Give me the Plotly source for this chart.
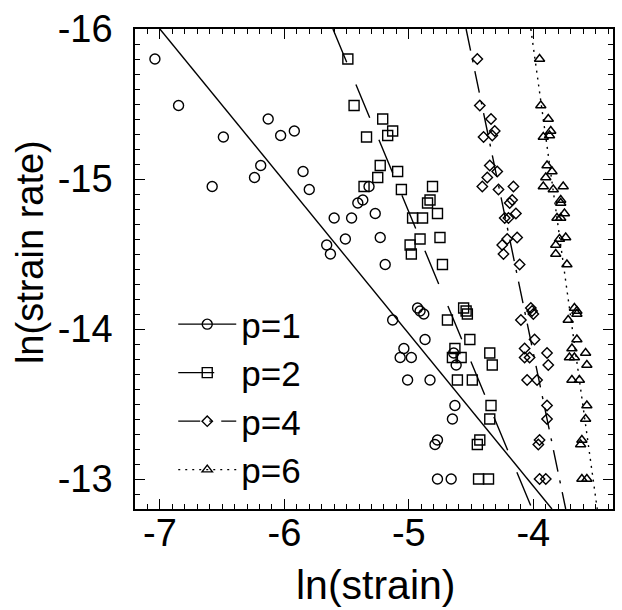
import plotly.graph_objects as go

# shared ln(strain rate) values (same set for each p)
ln_rate = [-15.80, -15.49, -15.40, -15.28, -15.29, -15.32, -15.09, -15.01, -14.95, -15.05,
           -14.93, -14.95, -14.86, -14.84, -14.74, -14.74, -14.77, -14.60, -14.56, -14.50,
           -14.61, -14.43, -14.14, -14.12, -14.10, -14.06, -13.93, -13.87, -13.81, -13.81,
           -13.66, -13.66, -13.84, -13.76, -13.49, -13.40, -13.26, -13.23, -13.00, -13.00]

# ln(strain) for each p
x_p1 = [-7.04, -6.85, -6.13, -6.49, -6.03, -5.92, -6.19, -6.24, -6.58, -5.85,
        -5.80, -5.32, -5.37, -5.41, -5.60, -5.46, -5.27, -5.51, -5.66, -5.63,
        -5.23, -5.19, -4.93, -4.91, -4.88, -5.13, -4.87, -5.04, -5.07, -4.98,
        -5.01, -4.83, -4.64, -4.62, -4.63, -4.65, -4.77, -4.79, -4.77, -4.66]
x_p2 = [-5.49, -5.44, -5.21, -5.34, -5.17, -5.13, -5.23, -5.25, -5.36, -5.09,
        -5.06, -4.81, -4.83, -4.85, -4.97, -4.89, -4.77, -4.91, -4.99, -4.98,
        -4.75, -4.73, -4.56, -4.54, -4.53, -4.69, -4.51, -4.63, -4.65, -4.58,
        -4.61, -4.49, -4.35, -4.33, -4.34, -4.35, -4.43, -4.45, -4.44, -4.36]
x_p4 = [-4.45, -4.43, -4.34, -4.40, -4.33, -4.31, -4.35, -4.37, -4.41, -4.29,
        -4.28, -4.16, -4.17, -4.19, -4.23, -4.20, -4.14, -4.21, -4.25, -4.24,
        -4.13, -4.11, -4.02, -4.01, -4.00, -4.10, -3.99, -4.07, -4.07, -4.03,
        -4.05, -3.97, -3.89, -3.88, -3.89, -3.89, -3.95, -3.96, -3.95, -3.90]
x_p6 = [-3.95, -3.94, -3.88, -3.92, -3.87, -3.86, -3.89, -3.90, -3.92, -3.85,
        -3.84, -3.76, -3.78, -3.78, -3.81, -3.78, -3.75, -3.79, -3.82, -3.82,
        -3.74, -3.73, -3.67, -3.65, -3.65, -3.72, -3.65, -3.69, -3.71, -3.67,
        -3.69, -3.63, -3.58, -3.57, -3.57, -3.58, -3.61, -3.62, -3.61, -3.57]

series_names = ["p=1", "p=2", "p=4", "p=6"]
series_x = [x_p1, x_p2, x_p4, x_p6]
symbols = ["circle-open", "square-open", "diamond-open", "triangle-up-open"]
marker_sizes = [10, 10, 8, 9]
dashes = ["solid", "36px,24px", "22px,9px,3px,9px", "2px,5px"]

# fitted lines: slope and ln(strain) at ln(rate) = -16
fit_slope = [1.016, 2.0, 4.0, 6.0]
fit_x_top = [-7.0, -5.61, -4.54, -4.02]

x_range = [-7.2, -3.36]
y_range = [-12.8, -16.0]

x_tickvals = [-7, -6, -5, -4]
x_ticktext = ["-7", "-6", "-5", "-4"]
y_tickvals = [-16, -15, -14, -13]
y_ticktext = ["-16", "-15", "-14", "-13"]

FONT = "Liberation Sans, Arial, sans-serif"

fig = go.Figure()
for i in range(4):
    fig.add_trace(go.Scatter(
        x=series_x[i], y=ln_rate, mode="markers", showlegend=False,
        marker=dict(symbol=symbols[i], size=marker_sizes[i], color="black",
                    line=dict(color="black", width=1.4)),
    ))
for i in range(4):
    y_top, y_bot = y_range[1], y_range[0]
    x_bot = fit_x_top[i] + (y_bot - y_top) / fit_slope[i]
    fig.add_trace(go.Scatter(
        x=[fit_x_top[i], x_bot], y=[y_top, y_bot], mode="lines+markers",
        name=series_names[i],
        line=dict(color="black", width=1.4, dash=dashes[i]),
        marker=dict(symbol=symbols[i], size=marker_sizes[i], color="black",
                    line=dict(color="black", width=1.4)),
        selectedpoints=[],
        unselected=dict(marker=dict(opacity=0)),
    ))

axis_common = dict(
    showline=True, linecolor="black", linewidth=1.5, mirror="ticks",
    ticks="inside", ticklen=10, tickwidth=1.2, tickcolor="black",
    showgrid=False, zeroline=False,
    tickfont=dict(family=FONT, size=38, color="black"),
)

fig.update_xaxes(range=x_range, tickmode="array", tickvals=x_tickvals, ticktext=x_ticktext,
                 minor=dict(tickmode="linear", tick0=-7, dtick=0.1, ticks="inside",
                            ticklen=5, tickwidth=1, tickcolor="black", showgrid=False),
                 ticklabelstandoff=-10, **axis_common)
fig.update_yaxes(range=y_range, tickmode="array", tickvals=y_tickvals, ticktext=y_ticktext,
                 minor=dict(tickmode="linear", tick0=-16, dtick=0.1, ticks="inside",
                            ticklen=5, tickwidth=1, tickcolor="black", showgrid=False),
                 ticklabelstandoff=13, **axis_common)

fig.update_layout(
    width=622, height=610,
    margin=dict(l=135, r=7, t=29, b=101),
    paper_bgcolor="white", plot_bgcolor="white",
    font=dict(family=FONT, color="black"),
    legend=dict(x=0.08, y=0.021, xanchor="left", yanchor="bottom",
                bgcolor="rgba(0,0,0,0)", borderwidth=0, itemwidth=58,
                font=dict(family=FONT, size=35, color="black"), tracegroupgap=0),
    annotations=[
        dict(text="ln(strain)", xref="paper", yref="paper", x=0.504, y=-0.158,
             xanchor="center", yanchor="middle", showarrow=False,
             font=dict(family=FONT, size=41, color="black")),
        dict(text="ln(strain rate)", xref="paper", yref="paper", x=-0.221, y=0.536,
             xanchor="center", yanchor="middle", textangle=-90, showarrow=False,
             font=dict(family=FONT, size=38, color="black")),
    ],
)

fig.write_html("out.html")
